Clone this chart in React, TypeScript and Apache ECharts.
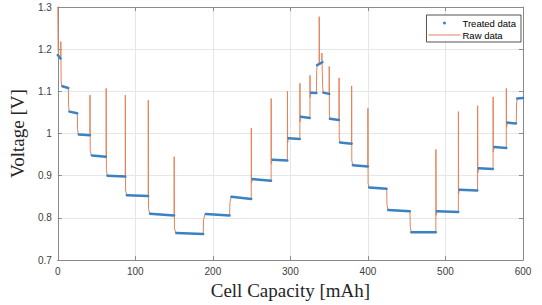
import React, { useEffect, useRef } from "react";
import * as echarts from "echarts";

// Treated data: plateaus as [startCapacity, endCapacity, startVoltage, endVoltage]
const treatedPlateaus: number[][] = [
  [0, 3.5, 1.186, 1.178],
  [6, 13.5, 1.112, 1.108],
  [15, 25, 1.052, 1.048],
  [27, 41.5, 0.998, 0.996],
  [44, 62, 0.948, 0.945],
  [64, 87, 0.9, 0.898],
  [89, 116.5, 0.854, 0.852],
  [119, 150, 0.81, 0.806],
  [153, 187.5, 0.764, 0.762],
  [191, 221.5, 0.809, 0.806],
  [224, 249.5, 0.85, 0.845],
  [251, 275, 0.892, 0.888],
  [277, 296, 0.938, 0.936],
  [297.5, 312, 0.989, 0.987],
  [313.5, 325, 1.04, 1.037],
  [326.5, 333.5, 1.097, 1.096],
  [334.5, 341.3, 1.162, 1.169],
  [342.5, 350, 1.097, 1.094],
  [351, 362.5, 1.035, 1.032],
  [364, 379, 0.979, 0.976],
  [380.5, 400, 0.925, 0.922],
  [401.5, 424, 0.872, 0.869],
  [426, 454, 0.819, 0.816],
  [456, 487.5, 0.766, 0.766],
  [489, 516.5, 0.816, 0.814],
  [518, 541, 0.867, 0.865],
  [543, 561, 0.918, 0.916],
  [563, 578.5, 0.968, 0.966],
  [580, 591, 1.026, 1.024],
  [592.5, 600, 1.083, 1.084],
];

// Raw data: [capacity mAh, voltage V]
const rawData: number[][] = [
  [0, 1.3], [0.4, 1.2], [1, 1.186], [3.8, 1.179], [3.9, 1.218], [4.3, 1.125], [5.2, 1.112],
  [13.6, 1.108], [13.9, 1.065], [14.8, 1.052], [25.2, 1.048], [25.5, 1.01], [26.6, 0.998],
  [41.4, 0.996], [41.5, 1.091], [41.8, 0.96], [43.2, 0.948], [62.3, 0.945], [62.4, 1.107],
  [62.7, 0.912], [64, 0.9], [87.0, 0.898], [87.1, 1.091], [87.4, 0.866], [88.8, 0.854],
  [116.6, 0.852], [116.7, 1.079], [117, 0.822], [118.6, 0.81], [150.0, 0.806], [150.1, 0.945],
  [150.4, 0.776], [152.2, 0.764], [187.6, 0.762], [188, 0.796], [189.8, 0.809], [221.6, 0.806],
  [222, 0.836], [223.6, 0.85], [249.5, 0.845], [249.6, 1.013], [249.8, 0.882], [251, 0.892],
  [275.1, 0.888], [275.2, 1.083], [275.4, 0.928], [276.6, 0.938], [296.1, 0.936], [296.2, 1.1],
  [296.4, 0.978], [297.4, 0.989], [312.2, 0.987], [312.3, 1.119], [312.5, 1.028], [313.4, 1.04],
  [325.2, 1.037], [325.3, 1.138], [325.5, 1.086], [326.4, 1.097], [333.6, 1.096], [333.9, 1.15],
  [334.6, 1.162], [337.1, 1.164], [337.2, 1.277], [337.4, 1.166], [340.5, 1.168], [340.6, 1.191],
  [340.8, 1.169], [341.4, 1.168], [341.6, 1.11], [342.4, 1.097], [350.0, 1.094], [350.1, 1.159],
  [350.3, 1.046], [351, 1.035], [362.7, 1.032], [362.8, 1.132], [363, 0.99], [364, 0.979],
  [378.9, 0.976], [379.0, 1.113], [379.2, 0.936], [380.4, 0.925], [399.9, 0.922], [400.0, 1.06],
  [400.2, 0.882], [401.4, 0.872], [424.2, 0.869], [424.6, 0.83], [426, 0.819], [454.2, 0.816],
  [454.6, 0.778], [456, 0.766], [487.6, 0.766], [487.7, 0.962], [487.9, 0.806], [489, 0.816],
  [516.6, 0.814], [516.7, 1.052], [516.9, 0.856], [518, 0.867], [541.4, 0.865], [541.5, 1.066],
  [541.7, 0.907], [543, 0.918], [561.4, 0.916], [561.5, 1.087], [561.7, 0.957], [563, 0.968],
  [578.4, 0.966], [578.5, 1.107], [578.7, 1.014], [580, 1.026], [591.3, 1.024], [591.7, 1.07],
  [592.6, 1.083], [600, 1.084],
];

const xTicks = [0, 100, 200, 300, 400, 500, 600];
const yTicks = [0.7, 0.8, 0.9, 1.0, 1.1, 1.2, 1.3];

export default function App() {
  const ref = useRef<HTMLDivElement>(null);
  useEffect(() => {
    if (!ref.current) return;
    const chart = echarts.init(ref.current, undefined, { renderer: "svg" });

    const treatedLine: (number[] | null)[] = [];
    treatedPlateaus.forEach((p) => {
      treatedLine.push([p[0], p[2]]);
      treatedLine.push([p[1], p[3]]);
      treatedLine.push(null);
    });

    const axisColor = "#8a8a8a";
    const labelStyle = { color: "#404040", fontFamily: "Liberation Sans", fontSize: 10 };
    const nameStyle = { color: "#262626", fontFamily: "Liberation Serif", fontSize: 19 };
    const rawColor = "#E5825A";
    const treatedColor = "#3A82C4";

    const xBase = {
      type: "value" as const,
      min: xTicks[0],
      max: xTicks[xTicks.length - 1],
      interval: 100,
    };
    const yBase = {
      type: "value" as const,
      min: yTicks[0],
      max: yTicks[yTicks.length - 1],
      interval: 0.1,
    };

    chart.setOption({
      animation: false,
      backgroundColor: "#ffffff",
      grid: { left: 56, top: 7, width: 467, height: 256, containLabel: false },
      legend: {
        orient: "vertical",
        right: 21,
        top: 15,
        itemWidth: 32,
        itemHeight: 3,
        itemGap: 2,
        padding: [3, 5, 2, 2],
        backgroundColor: "#ffffff",
        borderColor: "#262626",
        borderWidth: 0.8,
        textStyle: { color: "#000", fontFamily: "Liberation Sans", fontSize: 9.5, padding: [0, 0, 0, -3] },
        data: [
          { name: "Treated data", icon: "circle" },
          { name: "Raw data", icon: "path://M0 0H32V1H0Z" },
        ],
      },
      xAxis: [
        {
          ...xBase,
          position: "bottom",
          name: "Cell Capacity [mAh]",
          nameLocation: "middle",
          nameGap: 19,
          nameTextStyle: nameStyle,
          axisLine: { show: true, onZero: false, lineStyle: { color: axisColor, width: 1 } },
          axisTick: { show: true, inside: true, length: 4, lineStyle: { color: axisColor } },
          axisLabel: { ...labelStyle, margin: 6, formatter: (v: number) => String(v) },
          splitLine: { show: true, lineStyle: { color: "#e6e6e6", width: 1 } },
        },
        {
          ...xBase,
          position: "top",
          axisLine: { show: true, onZero: false, lineStyle: { color: axisColor, width: 1 } },
          axisTick: { show: true, inside: true, length: 4, lineStyle: { color: axisColor } },
          axisLabel: { show: false },
          splitLine: { show: false },
        },
      ],
      yAxis: [
        {
          ...yBase,
          position: "left",
          name: "Voltage [V]",
          nameLocation: "middle",
          nameGap: 25,
          nameTextStyle: nameStyle,
          axisLine: { show: true, onZero: false, lineStyle: { color: axisColor, width: 1 } },
          axisTick: { show: true, inside: true, length: 4, lineStyle: { color: axisColor } },
          axisLabel: {
            ...labelStyle,
            margin: 6,
            formatter: (v: number) => String(Math.round(v * 10) / 10),
          },
          splitLine: { show: true, lineStyle: { color: "#e6e6e6", width: 1 } },
        },
        {
          ...yBase,
          position: "right",
          axisLine: { show: true, onZero: false, lineStyle: { color: axisColor, width: 1 } },
          axisTick: { show: true, inside: true, length: 4, lineStyle: { color: axisColor } },
          axisLabel: { show: false },
          splitLine: { show: false },
        },
      ],
      series: [
        {
          name: "Raw data",
          type: "line",
          xAxisIndex: 0,
          yAxisIndex: 0,
          data: rawData,
          symbol: "none",
          z: 2,
          lineStyle: { color: rawColor, width: 1 },
          itemStyle: { color: rawColor },
        },
        {
          name: "Treated data",
          type: "line",
          xAxisIndex: 0,
          yAxisIndex: 0,
          data: treatedLine,
          connectNulls: false,
          symbol: "none",
          z: 3,
          lineStyle: { color: treatedColor, width: 2.5, cap: "round" },
          itemStyle: { color: treatedColor },
        },
      ],
    });
    return () => chart.dispose();
  }, []);
  return (
    <div
      ref={ref}
      style={{ position: "absolute", left: 0, top: 0, width: 542, height: 305 }}
    />
  );
}
